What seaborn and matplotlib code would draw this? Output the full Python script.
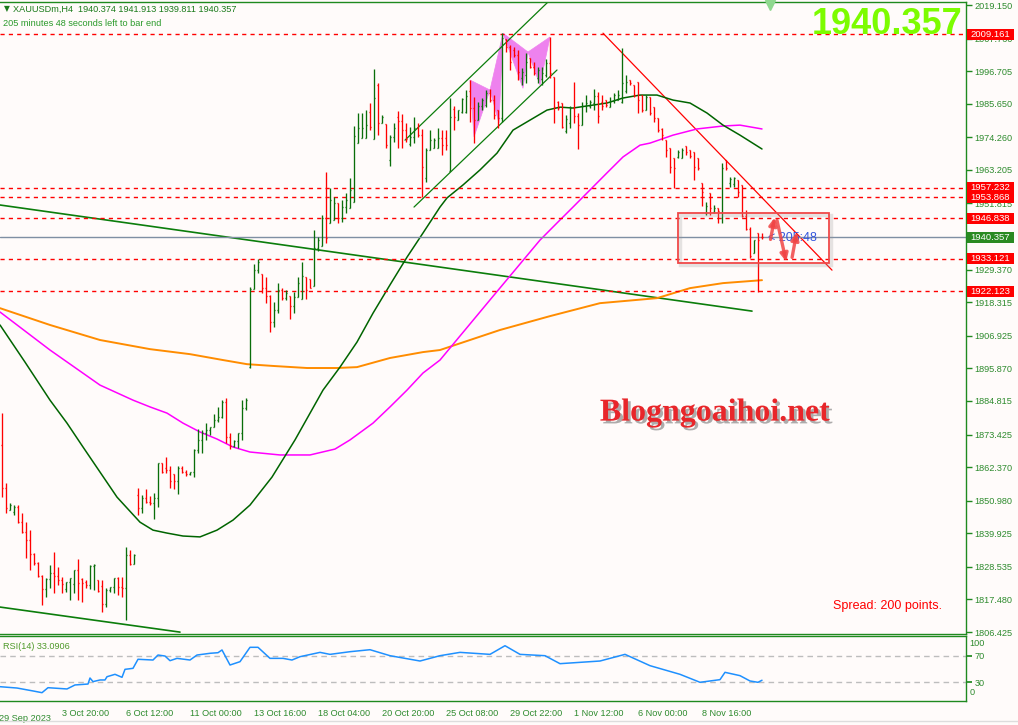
import numpy as np
import pandas as pd
import matplotlib
matplotlib.use("Agg")
import matplotlib.pyplot as plt
import seaborn as sns
from matplotlib.patches import Rectangle, Polygon, FancyArrowPatch
from matplotlib.lines import Line2D
import matplotlib.patheffects as pe

# ---------------- data (XAUUSDm, H4) ----------------
opens = [1869.9,1855.3,1847.8,1847.0,1849.0,1843.7,1840.5,1837.6,1832.9,1829.8,1825.4,1821.0,1824.4,1826.4,1825.4,1824.1,1821.0,1823.4,1822.7,1827.5,
         1824.4,1823.4,1822.4,1828.8,1824.1,1822.0,1816.0,1820.7,1821.7,1824.8,1821.7,1821.4,1832.6,1829.5,1853.0,1848.5,1851.9,1850.5,1850.2,1851.9,
         1863.8,1862.0,1861.4,1860.0,1857.7,1862.1,1860.7,1860.0,1860.7,1868.2,1871.6,1873.9,1875.0,1876.0,1878.3,1879.4,1884.4,1872.6,1869.5,1871.2,
         1873.9,1882.4,1896.3,1922.8,1929.2,1927.9,1923.1,1920.4,1911.6,1915.7,1922.5,1919.7,1920.4,1917.0,1920.1,1919.4,1926.9,1926.2,1923.8,1936.7,
         1937.4,1946.9,1945.2,1946.2,1952.0,1946.9,1950.6,1950.3,1952.3,1972.3,1974.0,1974.0,1983.0,1973.7,1992.0,1979.1,1978.8,1966.6,1974.4,1981.0,
         1979.8,1976.7,1972.0,1974.4,1977.4,1975.0,1960.5,1969.9,1970.6,1970.6,1974.0,1974.0,1963.0,1984.0,1980.1,1983.0,1983.0,1990.0,1984.2,1980.1,
         1984.9,1985.2,1989.3,1986.9,1983.5,1980.8,2007.6,2004.9,2004.0,2002.2,1994.4,1995.4,2001.2,1998.1,1994.4,1994.0,1995.4,1999.5,1994.7,1986.2,
         1985.9,1976.5,1979.0,1984.2,1981.5,1978.4,1984.9,1985.0,1985.9,1988.3,1986.2,1986.9,1984.5,1986.6,1987.0,1986.2,1990.0,1993.7,1992.0,1993.0,
         1988.6,1983.5,1987.9,1984.5,1980.8,1977.0,1973.3,1970.6,1967.2,1967.5,1967.2,1971.3,1969.9,1969.3,1967.2,1958.8,1948.5,1955.4,1949.0,1950.3,
         1947.0,1966.6,1958.8,1958.5,1959.8,1958.1,1947.6,1943.1,1935.0,1941.8,1940.374]
highs = [1880.7,1857.0,1850.2,1849.5,1849.5,1846.8,1843.7,1841.0,1833.2,1830.2,1825.8,1824.8,1829.1,1833.6,1828.5,1825.1,1823.4,1824.8,1827.5,1831.2,
         1824.8,1824.1,1829.1,1829.5,1824.1,1824.1,1821.4,1821.7,1824.8,1825.1,1825.1,1835.3,1834.3,1832.9,1855.3,1852.9,1855.0,1852.6,1853.6,1863.8,
         1863.8,1865.8,1862.7,1860.0,1862.7,1862.7,1861.4,1860.7,1868.5,1875.3,1875.0,1877.3,1876.0,1880.4,1882.8,1885.1,1885.8,1873.9,1871.6,1873.9,
         1885.1,1885.8,1923.5,1931.3,1933.0,1927.9,1926.9,1920.8,1918.4,1924.8,1923.1,1922.5,1920.4,1921.8,1926.9,1931.9,1926.9,1926.2,1942.8,1940.4,
         1947.9,1962.5,1957.1,1954.0,1952.0,1953.0,1955.4,1960.5,1978.1,1982.5,1982.5,1983.5,1985.9,1997.4,1992.7,1981.8,1978.8,1975.0,1979.1,1983.2,
         1982.2,1979.1,1977.8,1981.2,1979.1,1977.1,1970.6,1976.7,1974.0,1977.4,1976.7,1976.7,1987.6,1984.9,1983.5,1987.6,1990.3,1993.7,1987.9,1986.2,
         1987.6,1990.3,1990.6,1988.6,1983.5,2009.6,2007.6,2005.6,2004.9,2003.9,1997.8,2002.9,2001.2,1999.8,1998.1,1998.1,2000.8,2008.3,1994.7,1986.6,
         1985.9,1981.8,1984.9,1993.0,1982.5,1986.2,1988.6,1986.9,1990.6,1989.6,1988.6,1986.9,1987.9,1989.3,1990.3,2004.6,1995.4,1993.7,1992.0,1993.0,
         1988.6,1988.6,1987.9,1984.5,1980.8,1977.4,1973.3,1970.6,1967.2,1969.9,1970.6,1971.3,1969.9,1969.3,1967.2,1958.8,1952.3,1955.4,1951.3,1950.3,
         1965.5,1966.6,1960.8,1960.8,1959.8,1958.1,1949.6,1943.8,1939.4,1941.8,1941.913]
lows = [1852.2,1846.8,1847.8,1846.1,1843.4,1840.0,1831.5,1827.5,1829.1,1825.1,1815.6,1818.3,1821.4,1819.7,1822.4,1819.7,1820.0,1817.3,1819.7,1817.3,
        1816.6,1821.4,1821.0,1820.7,1820.0,1813.2,1814.9,1820.0,1819.7,1819.0,1818.3,1810.5,1829.1,1829.5,1846.1,1846.8,1850.2,1849.5,1844.8,1848.8,
        1860.4,1860.4,1855.3,1855.0,1853.3,1860.4,1859.4,1859.7,1859.0,1867.2,1867.2,1871.6,1873.3,1876.0,1877.7,1879.0,1870.6,1868.5,1869.2,1868.9,
        1871.6,1881.7,1896.0,1922.8,1928.2,1921.4,1918.0,1908.2,1909.9,1914.7,1919.1,1919.1,1912.6,1914.7,1920.1,1919.4,1919.4,1923.1,1923.8,1935.7,
        1937.4,1938.4,1945.2,1946.2,1945.2,1945.5,1948.6,1950.3,1952.3,1972.3,1974.0,1974.0,1976.7,1973.7,1975.0,1979.1,1970.6,1964.5,1972.7,1970.6,
        1970.6,1972.7,1971.3,1972.3,1974.4,1954.0,1959.1,1969.9,1970.6,1970.6,1968.3,1969.9,1963.0,1976.7,1980.1,1982.5,1982.5,1979.4,1972.3,1980.1,
        1983.5,1984.5,1986.2,1980.5,1977.4,1979.4,2003.2,1997.1,2001.5,1993.7,1992.0,1992.7,1997.8,1995.4,1992.7,1992.0,1994.7,1994.4,1979.1,1983.5,
        1977.4,1975.7,1977.4,1979.1,1970.3,1978.4,1982.8,1984.2,1983.5,1979.1,1983.5,1984.5,1984.5,1985.9,1986.9,1985.9,1989.3,1992.0,1987.9,1982.5,
        1982.8,1983.5,1981.8,1979.4,1976.1,1973.3,1967.6,1962.2,1957.1,1967.2,1967.2,1968.3,1967.2,1959.8,1963.2,1950.9,1947.9,1947.9,1948.6,1945.2,
        1945.2,1963.2,1957.4,1957.4,1954.0,1947.2,1942.8,1933.3,1935.0,1921.8,1939.811]
closes = [1855.3,1848.5,1849.5,1849.0,1843.7,1840.5,1837.6,1832.9,1829.8,1825.4,1821.0,1824.4,1826.4,1825.4,1824.1,1822.7,1823.4,1824.8,1827.5,1823.1,
          1823.1,1822.4,1828.8,1829.1,1820.3,1816.0,1820.7,1821.7,1824.8,1821.7,1821.4,1832.6,1829.5,1832.6,1848.5,1851.9,1850.5,1850.2,1851.9,1863.8,
          1860.7,1861.4,1857.7,1857.7,1862.1,1860.7,1860.0,1860.7,1868.2,1871.6,1873.9,1875.0,1876.0,1878.3,1879.4,1884.4,1872.6,1869.5,1871.2,1873.9,
          1882.4,1885.1,1922.8,1929.2,1931.9,1923.1,1920.4,1911.6,1915.7,1922.5,1919.7,1921.5,1917.0,1920.1,1924.8,1927.2,1922.5,1923.1,1936.7,1939.4,
          1946.9,1940.1,1953.0,1952.0,1946.9,1950.6,1953.0,1956.4,1974.7,1977.4,1977.4,1978.4,1977.8,1987.6,1979.1,1981.2,1971.6,1974.4,1977.4,1979.8,
          1976.7,1973.7,1974.4,1977.4,1975.0,1964.2,1969.9,1973.3,1973.3,1974.0,1971.6,1971.6,1981.2,1981.2,1983.5,1987.3,1988.3,1984.2,1980.1,1984.9,
          1986.9,1989.3,1986.9,1981.8,1980.8,2007.9,2004.9,1999.8,2002.2,1996.4,1996.4,1999.8,1998.1,1996.1,1997.1,1996.1,1999.5,1996.1,1984.5,1984.2,
          1977.8,1980.5,1984.2,1981.5,1978.4,1984.9,1985.9,1986.2,1988.3,1981.5,1984.9,1985.2,1986.6,1988.6,1988.6,1992.7,1993.0,1992.7,1988.6,1986.9,
          1983.5,1987.9,1982.5,1980.8,1976.7,1975.0,1969.9,1964.2,1963.8,1969.3,1969.9,1969.3,1968.0,1964.2,1963.8,1955.7,1951.0,1950.3,1950.3,1949.3,
          1963.8,1963.8,1960.0,1960.5,1955.7,1947.6,1943.1,1934.0,1939.4,1939.4,1940.357]

# moving averages (bar index, price)
ma_green_bar = [-0.5,5.75,12,16.25,20.25,24.5,28.75,31.25,34.5,37.75,41.25,45.25,49.5,53.75,57.75,62,67.5,73.25,80.25,84.5,88.75,92.75,97,
                101.25,105.25,109.5,111.25,115.25,119.5,123.75,127.75,132,136.25,139.5,142.75,151.25,155.25,159.5,163.75,167.75,172,176.25,180.25,184.5,190]
ma_green_val = [1910.6,1898.0,1885.1,1877.3,1869.2,1860.7,1852.2,1848.5,1843.7,1841.0,1840.0,1839.0,1838.7,1841.0,1844.4,1849.5,1859.0,1871.6,1888.5,
                1896.3,1904.8,1914.6,1924.2,1933.6,1941.8,1950.6,1953.7,1958.1,1963.2,1968.9,1976.7,1980.1,1983.5,1984.5,1984.2,1985.9,1987.6,1988.6,
                1988.6,1986.9,1985.9,1982.5,1978.4,1975.0,1970.3]
ma_magenta_bar = [-0.5,12,24.5,32.75,37,41.25,45.25,49.5,53.75,57.75,62,69.5,77,83.25,87,92.75,97,101.25,105.25,109.5,122,134.5,138.75,142.75,
                  147,151.25,155.25,159.5,162,167.75,173.75,180.25,184.5,190]
ma_magenta_val = [1915.0,1902.1,1890.2,1885.1,1882.8,1880.7,1877.3,1874.3,1871.9,1869.2,1867.5,1866.5,1866.5,1868.5,1871.6,1877.3,1882.8,1888.5,
                  1894.3,1898.7,1919.1,1939.4,1945.2,1950.6,1956.4,1962.2,1967.6,1971.6,1972.3,1975.0,1977.1,1978.1,1978.4,1977.1]
ma_orange_bar = [-0.5,12,24.5,37,47,55.25,61.25,67.75,76.25,83.75,88.75,97,105.25,109.5,124.5,137,149.5,163.75,172,180.25,190]
ma_orange_val = [1916.3,1910.6,1905.5,1902.4,1900.7,1898.7,1897.3,1896.7,1896.0,1896.0,1896.3,1899.4,1901.4,1902.1,1908.9,1913.6,1918.0,1919.7,
                 1923.1,1924.8,1925.8]

# RSI(14)
rsi_bar = [-0.5,3.75,7.75,10,11.5,16.25,18.25,21.5,22,22.75,24.5,25.75,26.25,28.25,30,30.75,32.75,34,37.75,39,40.75,42,43.75,47,48.75,52,54,55,
           57,59.5,62,64,67,70.25,72.5,74.5,79.5,82,87,92,97,104.5,109.5,114.5,122,125.75,129.5,135.75,139.5,144.5,149.5,155.75,162,169.5,174.5,
           179.5,180.75,184.5,187,189,190]
rsi_val = [23.4,21.4,17,14.4,21.9,20,26,27.4,36.5,31,33.5,33.5,38.4,42,37.5,49.5,51,64.6,63.5,71,69.5,62.5,66,63.5,71,73.6,74.5,78.6,56,61,82.6,
           82.6,66,66,63.5,68.5,75,72,76,79,70,62,70,75,72,85,72,70,58,60,62,72,55,42,30,34,45,40,32,30,33.09]

# horizontal levels, price axis
levels = [2009.161, 1957.232, 1953.868, 1946.838, 1933.121, 1922.123]
current_price = 1940.357
price_ticks = [2019.150, 2007.760, 1996.705, 1985.650, 1974.260, 1963.205, 1951.815, 1929.370, 1918.315, 1906.925,
               1895.870, 1884.815, 1873.425, 1862.370, 1850.980, 1839.925, 1828.535, 1817.480, 1806.425]
time_tick_bars = [15, 31, 47, 63, 79, 95, 111, 127, 143, 159, 175]
time_tick_labels = ["3 Oct 20:00", "6 Oct 12:00", "11 Oct 00:00", "13 Oct 16:00", "18 Oct 04:00", "20 Oct 20:00",
                    "25 Oct 08:00", "29 Oct 22:00", "1 Nov 12:00", "6 Nov 00:00", "8 Nov 16:00"]

# drawn objects (bar index, price)
trend_long = ([-0.5, 187.5], [1951.3, 1915.3])
trend_low = ([-0.5, 44.5], [1814.9, 1806.4])
channel_up = ([100.75, 136.75], [1973.3, 2020.5])
channel_dn = ([103, 138.75], [1950.6, 1997.1])
trend_red = ([150.25, 207.5], [2009.6, 1929.2])
pattern = [[(117, 1993.7), (118, 1974.4), (122, 1990.3)],
           [(122, 1990.3), (125.25, 2009.6), (124.25, 1979.1)],
           [(125.25, 2009.6), (130.25, 1990.9), (131.5, 2003.2)],
           [(131.5, 2003.2), (137, 2008.3), (134.5, 1992.0)]]
box = (169, 1931.6, 206.75, 1948.6)
arrows = [((192, 1938.7), (193.3, 1948.0)), ((193.6, 1947.0), (196.2, 1931.2)), ((197.4, 1932.6), (198.8, 1943.0))]

# ---------------- styling ----------------
sns.set_theme(style="white")
plt.rcParams["font.family"] = ["Liberation Sans", "DejaVu Sans"]
BG = "#fffbfa"
GREEN_AX = "#1f8a1f"
TXT = "#2e8b2e"
UP = "#0a6e0a"
DN = "#ff0000"

fig = plt.figure(figsize=(10.18, 7.25), dpi=100, facecolor=BG)
W, H = 1018.0, 725.0
ax = fig.add_axes([0, 1 - 634 / H, 966 / W, 632 / H], facecolor=BG)
ax2 = fig.add_axes([0, 1 - 701 / H, 966 / W, 65 / H], facecolor=BG)

XMIN, XMAX = -0.5, 241
ax.set_xlim(XMIN, XMAX)
ax.set_ylim(1805.76, 2020.17)

df = pd.DataFrame(dict(bar=np.arange(len(closes)), open=opens, high=highs, low=lows, close=closes))
cols = np.where(df["close"] >= df["open"], UP, DN)

# pattern fill (below bars)
for poly in pattern:
    ax.add_patch(Polygon(poly, closed=True, fc="#ee82ee", ec="#ee82ee", lw=0.5, zorder=1))

# lines
ax.plot(*trend_long, color="#0b7d0b", lw=1.2, zorder=2)
ax.plot(*trend_low, color="#0b7d0b", lw=1.2, zorder=2)
ax.plot(*channel_up, color="#0b7d0b", lw=0.9, zorder=2)
ax.plot(*channel_dn, color="#0b7d0b", lw=0.9, zorder=2)
ax.plot(*trend_red, color="#ff0000", lw=0.9, zorder=2)

sns.lineplot(x=ma_orange_bar, y=ma_orange_val, ax=ax, color="#ff8c00", lw=1.4, zorder=2)
sns.lineplot(x=ma_magenta_bar, y=ma_magenta_val, ax=ax, color="#ff00ff", lw=1.1, zorder=2)
sns.lineplot(x=ma_green_bar, y=ma_green_val, ax=ax, color="#006400", lw=1.1, zorder=2)

for lv in levels:
    ax.axhline(lv, color="#ff0000", lw=1, ls=(0, (3, 3)), zorder=2)
ax.axhline(current_price, color="#7f8fa3", lw=1, zorder=2)

# OHLC bars
ax.vlines(df["bar"], df["low"], df["high"], colors=cols, lw=0.95, zorder=3)
ax.hlines(df["open"], df["bar"] - 0.35, df["bar"], colors=cols, lw=0.95, zorder=3)
ax.hlines(df["close"], df["bar"], df["bar"] + 0.35, colors=cols, lw=0.95, zorder=3)

# rectangle with soft shadow
x0, y0, x1, y1 = box
ax.add_patch(Rectangle((x0 + 0.4, y0 - 0.6), x1 - x0, y1 - y0, fill=False, ec="#999999", lw=2.5, alpha=0.25, zorder=4))
ax.add_patch(Rectangle((x0, y0), x1 - x0, y1 - y0, fill=False, ec="#f04848", lw=1.3, zorder=4))
ax.text(191.6, 1940.0, "< 205:48", color="#3355dd", fontsize=9, va="center", ha="left", zorder=5)
for (a, b) in arrows:
    ax.add_patch(FancyArrowPatch(a, b, arrowstyle="-|>", mutation_scale=11, lw=2.4, color="#f04545", alpha=0.85, zorder=6))

# texts
ax.text(178.3, 1880.7, "Blogngoaihoi.net", fontsize=23, fontweight="bold", color="#e8262a",
        family=["Liberation Serif", "DejaVu Serif"], ha="center", va="center", zorder=6,
        path_effects=[pe.withSimplePatchShadow(offset=(2, -2), shadow_rgbFace="#777777", alpha=0.6)])
ax.text(207.75, 1815.3, "Spread: 200 points.", fontsize=9, color="#ff0000", ha="left", va="center")
fig.text(962 / W, 1 - 25 / H, "1940.357", fontsize=26, fontweight="bold", color="#7cfc00", ha="right", va="center")
fig.text(4 / W, 1 - 9 / H, "\u25bc", fontsize=5.5, color="#1a7a1a", ha="left", va="center", family=["DejaVu Sans"])
fig.text(13 / W, 1 - 9 / H, "XAUUSDm,H4  1940.374 1941.913 1939.811 1940.357", fontsize=6.6, color="#1a7a1a",
         ha="left", va="center")
fig.text(3 / W, 1 - 23 / H, "205 minutes 48 seconds left to bar end", fontsize=6.6, color="#2a9a2a", ha="left", va="center")
ax.plot([192], [2019.3], marker="v", ms=7, color="#8fd88f", clip_on=False, zorder=7)

# price axis
ax.yaxis.tick_right()
ax.set_yticks(price_ticks)
ax.set_yticklabels([f"{t:.3f}" for t in price_ticks])
ax.tick_params(axis="y", colors=GREEN_AX, labelcolor=TXT, labelsize=6.6, length=4, width=1, pad=2, direction="out")
ax.set_xticks([])
trans = ax.get_yaxis_transform()
BOX_W = 47 / 966.0
BOX_H = 11 * (2020.17 - 1805.76) / 632.0
for lv, fc in [(v, "#ff0000") for v in levels] + [(current_price, "#2a8a22")]:
    ax.add_patch(Rectangle((1.001, lv - BOX_H / 2), BOX_W, BOX_H, transform=trans, fc=fc, ec="none",
                           clip_on=False, zorder=9))
    ax.text(1.001 + BOX_W / 2, lv, f"{lv:.3f}", transform=trans, ha="center", va="center", fontsize=6.8,
            color="white", clip_on=False, zorder=10)

for s in ["top", "bottom", "right"]:
    ax.spines[s].set_color(GREEN_AX)
    ax.spines[s].set_linewidth(1)
ax.spines["left"].set_visible(False)

# ---------------- RSI panel ----------------
ax2.set_xlim(XMIN, XMAX)
ax2.set_ylim(1.9, 99.6)
ax2.axhline(70, color="#bdbdbd", lw=1, ls=(0, (4, 3)))
ax2.axhline(30, color="#bdbdbd", lw=1, ls=(0, (4, 3)))
sns.lineplot(x=rsi_bar, y=rsi_val, ax=ax2, color="#1e90ff", lw=1.1)
ax2.yaxis.tick_right()
ax2.set_yticks([70, 30])
ax2.set_yticklabels(["70", "30"])
ax2.tick_params(axis="y", colors=GREEN_AX, labelcolor=TXT, labelsize=6.6, length=4, pad=2)
t2 = ax2.get_yaxis_transform()
ax2.text(1.0035, 89, "100", transform=t2, ha="left", va="center", fontsize=6.6, color=TXT, clip_on=False)
ax2.text(1.0035, 14, "0", transform=t2, ha="left", va="center", fontsize=6.6, color=TXT, clip_on=False)
ax2.text(0.003, 0.84, "RSI(14) 33.0906", transform=ax2.transAxes, fontsize=6.6, color="#4f9a2a", ha="left", va="center")
ax2.set_xticks(time_tick_bars)
ax2.set_xticklabels(time_tick_labels)
ax2.tick_params(axis="x", colors=GREEN_AX, labelcolor=TXT, labelsize=6.6, length=4, pad=2, direction="out")
for lbl in ax2.get_xticklabels():
    lbl.set_ha("left")
ax2.text(-0.001, -0.27, "29 Sep 2023", transform=ax2.transAxes, fontsize=6.6, color=TXT, ha="left", va="center")
ax2.set_xlabel("")
ax2.set_ylabel("")
ax.set_xlabel("")
ax.set_ylabel("")
for s in ["top", "bottom", "right"]:
    ax2.spines[s].set_color(GREEN_AX)
    ax2.spines[s].set_linewidth(1)
ax2.spines["left"].set_visible(False)

fig.add_artist(Line2D([0, 1], [1 - 721 / H, 1 - 721 / H], color="#dddddd", lw=1))

fig.savefig("out.png", dpi=100, facecolor=BG)
